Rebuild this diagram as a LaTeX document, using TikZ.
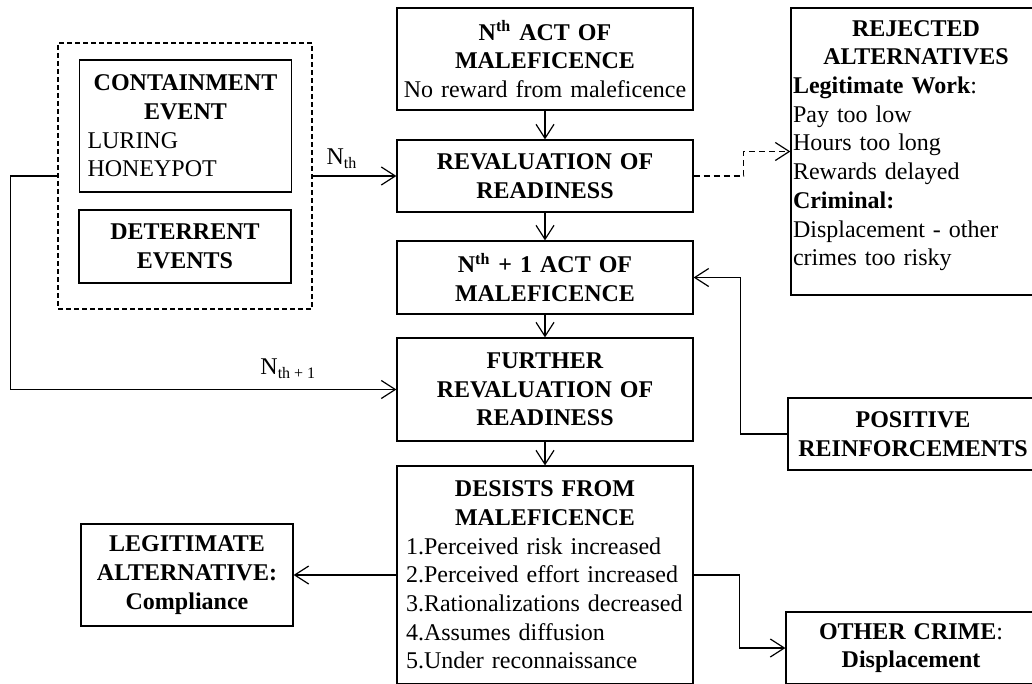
\documentclass[tikz,border=0pt]{standalone}
\usepackage{fontspec}
\setmainfont{Liberation Serif}
\usepackage{tikz}
\usetikzlibrary{positioning,arrows.meta}
\setlength{\parindent}{0pt}
\newcommand{\lline}[1]{\makebox[\hsize][l]{#1}}

\begin{document}
\begin{tikzpicture}[
  x=0.5pt, y=-0.5pt,
  line width=0.6pt,
  >={Straight Barb[length=7pt,width=9pt]},
  bx/.style={rectangle, draw, line width=0.6pt, fill=white, align=center,
    inner xsep=4.5pt, inner ysep=2pt, font=\fontsize{12}{14.35}\selectfont},
  bxmid/.style={bx, minimum width=148pt, text width=139pt},
  bxside/.style={bx, minimum width=125pt, text width=123pt, inner xsep=1pt},
  bxleft/.style={bx, minimum width=106pt, text width=98pt, inner xsep=4pt},
  grp/.style={draw, dash pattern=on 2.5pt off 1.5pt},
  dsh/.style={dash pattern=on 3pt off 2pt},
  lbl/.style={font=\fontsize{12}{14.35}\selectfont},
]
\path[use as bounding box, clip] (0,0) rectangle (1032,684);

% --- Events group (left) ---
\node[grp, minimum width=127pt, minimum height=133pt] (grp) at (185,176) {};
\node[bxleft, minimum height=66pt] (contain) at (185.5,126)
  {\textbf{CONTAINMENT}\\ \textbf{EVENT}\\ \lline{LURING}\\ \lline{HONEYPOT}};
\node[bxleft, minimum height=36.5pt] (deter) at (185,246.5)
  {\textbf{DETERRENT}\\ \textbf{EVENTS}};

% --- Main column ---
\node[bxmid, minimum height=51pt, text width=143pt, inner xsep=2.5pt] (act) at (545,59)
  {\textbf{N\textsuperscript{th} ACT OF}\\ \textbf{MALEFICENCE}\\ No reward from maleficence};
\node[bxmid, minimum height=36pt] (reval) at (545,176)
  {\textbf{REVALUATION OF}\\ \textbf{READINESS}};
\node[bxmid, minimum height=36.5pt] (actnext) at (545,277.5)
  {\textbf{N\textsuperscript{th} + 1 ACT OF}\\ \textbf{MALEFICENCE}};
\node[bxmid, minimum height=51.5pt] (further) at (545,389.5)
  {\textbf{FURTHER}\\ \textbf{REVALUATION OF}\\ \textbf{READINESS}};
\node[bxmid, minimum height=109pt] (desist) at (545,575)
  {\textbf{DESISTS FROM}\\ \textbf{MALEFICENCE}\\
   \lline{1.Perceived risk increased}\\ \lline{2.Perceived effort increased}\\
   \lline{3.Rationalizations decreased}\\ \lline{4.Assumes diffusion}\\
   \lline{5.Under reconnaissance}};

% --- Outcomes ---
\node[bxside, minimum height=143.5pt] (rej) at (916,151.5)
  {\textbf{REJECTED}\\ \textbf{ALTERNATIVES}\\ \lline{\textbf{Legitimate Work}:}\\
   \lline{Pay too low}\\ \lline{Hours too long}\\ \lline{Rewards delayed}\\
   \lline{\textbf{Criminal:}}\\ \lline{Displacement - other}\\
   \lline{crimes too risky\rule[-8.5pt]{0pt}{8.5pt}}};
\node[bxside, minimum height=36pt] (reinf) at (913,434)
  {\textbf{POSITIVE}\\ \textbf{REINFORCEMENTS}};
\node[bxside, minimum height=36pt] (other) at (911,648)
  {\textbf{OTHER CRIME}:\\ \textbf{Displacement}};
\node[bxleft, minimum height=51pt] (legit) at (187,575)
  {\textbf{LEGITIMATE}\\ \textbf{ALTERNATIVE:}\\ \textbf{Compliance}};

% --- Connectors ---
\draw[->] (grp.east) -- node[lbl, above, pos=0.35] (nth) {N\textsubscript{th}} (reval.west);
\draw[->] (act.south) -- (reval.north);
\draw[->] (reval.south) -- (actnext.north);
\draw[->] (actnext.south) -- (further.north);
\draw[->] (further.south) -- (desist.north);
\draw[->, dsh] (reval.east) -- ++(25pt,0) |- (rej.west);
\draw[->] (reinf.west) -- ++(-23.5pt,0) |- (actnext.east);
\draw[->] (grp.west) -- ++(-23.5pt,0) |-
  node[lbl, above=2pt, pos=0.86] (nthnext) {N\textsubscript{th + 1}} (further.west);
\draw[->] (desist.west) -- (legit.east);
\draw[->] (desist.east) -- ++(23pt,0) |- (other.west);
\end{tikzpicture}
\end{document}
